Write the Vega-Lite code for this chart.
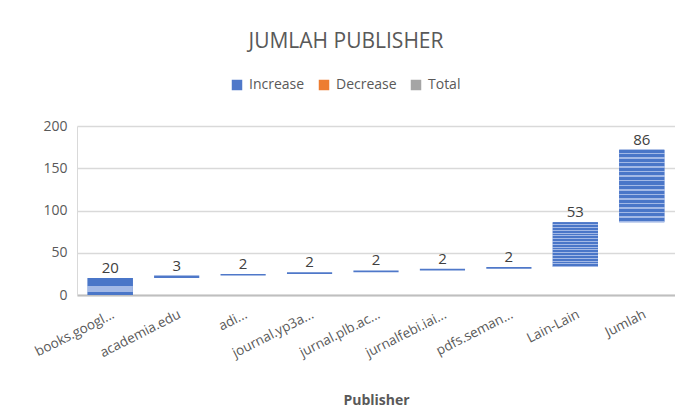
{
  "$schema": "https://vega.github.io/schema/vega-lite/v6.json",
  "autosize": {"type": "none"},
  "width": 598,
  "height": 169,
  "padding": {"left": 77, "top": 126, "right": 0, "bottom": 117},
  "background": "white",
  "title": {
    "text": "JUMLAH PUBLISHER",
    "font": "Open Sans",
    "fontSize": 21,
    "fontWeight": "normal",
    "color": "#595959",
    "anchor": "middle",
    "dx": -30,
    "offset": 26
  },
  "config": {
    "view": {"stroke": null},
    "font": "Open Sans"
  },
  "data": {
    "values": [
      {"publisher": "books.googl...", "start": 0, "end": 20, "value": 20, "type": "Increase"},
      {"publisher": "academia.edu", "start": 20, "end": 23, "value": 3, "type": "Increase"},
      {"publisher": "adi...", "start": 23, "end": 25, "value": 2, "type": "Increase"},
      {"publisher": "journal.yp3a...", "start": 25, "end": 27, "value": 2, "type": "Increase"},
      {"publisher": "jurnal.plb.ac...", "start": 27, "end": 29, "value": 2, "type": "Increase"},
      {"publisher": "jurnalfebi.iai...", "start": 29, "end": 31, "value": 2, "type": "Increase"},
      {"publisher": "pdfs.seman...", "start": 31, "end": 33, "value": 2, "type": "Increase"},
      {"publisher": "Lain-Lain", "start": 33, "end": 86, "value": 53, "type": "Increase"},
      {"publisher": "Jumlah", "start": 86, "end": 172, "value": 86, "type": "Increase"}
    ]
  },
  "encoding": {
    "x": {
      "field": "publisher",
      "type": "nominal",
      "sort": null,
      "scale": {"paddingInner": 0.32, "paddingOuter": 0.16},
      "axis": {
        "title": "Publisher",
        "titleFont": "Open Sans",
        "titleFontSize": 14,
        "titleFontWeight": "bold",
        "titleColor": "#595959",
        "titlePadding": 34,
        "labelAngle": -27,
        "labelFont": "Open Sans",
        "labelFontSize": 13.5,
        "labelColor": "#595959",
        "labelPadding": 12,
        "labelLimit": 200,
        "ticks": false,
        "domainColor": "#bfbfbf",
        "domainWidth": 2,
        "grid": false
      }
    }
  },
  "layer": [
    {
      "mark": {"type": "bar", "stroke": null, "opacity": 1},
      "encoding": {
        "y": {
          "field": "start",
          "type": "quantitative",
          "scale": {"domain": [0, 200]},
          "axis": {
            "title": null,
            "values": [0, 50, 100, 150, 200],
            "labelFont": "Open Sans",
            "labelFontSize": 14,
            "labelColor": "#595959",
            "labelPadding": 10,
            "ticks": false,
            "domain": true,
            "domainColor": "#d9d9d9",
            "gridColor": "#d9d9d9",
            "gridWidth": 1.3
          }
        },
        "y2": {"field": "end"},
        "color": {
          "field": "type",
          "type": "nominal",
          "scale": {
            "domain": ["Increase", "Decrease", "Total"],
            "range": ["#4f78c9", "#ED7D31", "#A5A5A5"]
          },
          "legend": {
            "title": null,
            "orient": "none",
            "direction": "horizontal",
            "legendX": 153,
            "legendY": -48,
            "symbolType": "square",
            "symbolSize": 110,
            "symbolStrokeWidth": 0,
            "labelFont": "Open Sans",
            "labelFontSize": 14,
            "labelColor": "#595959",
            "columnPadding": 12,
            "labelOffset": 5
          }
        }
      }
    },
    {
      "transform": [{"filter": "datum.value >= 10"}],
      "mark": {
        "type": "bar",
        "stroke": null,
        "color": {
          "gradient": "linear",
          "x1": 0, "y1": 0, "x2": 0, "y2": 1,
          "stops": [
            {"offset": 0, "color": "#4a76c8"}, {"offset": 0.042, "color": "#4a76c8"}, {"offset": 0.042, "color": "#a3b9e6"}, {"offset": 0.0625, "color": "#a3b9e6"},
            {"offset": 0.0625, "color": "#4a76c8"}, {"offset": 0.1045, "color": "#4a76c8"}, {"offset": 0.1045, "color": "#a3b9e6"}, {"offset": 0.125, "color": "#a3b9e6"},
            {"offset": 0.125, "color": "#4a76c8"}, {"offset": 0.167, "color": "#4a76c8"}, {"offset": 0.167, "color": "#a3b9e6"}, {"offset": 0.1875, "color": "#a3b9e6"},
            {"offset": 0.1875, "color": "#4a76c8"}, {"offset": 0.2295, "color": "#4a76c8"}, {"offset": 0.2295, "color": "#a3b9e6"}, {"offset": 0.25, "color": "#a3b9e6"},
            {"offset": 0.25, "color": "#4a76c8"}, {"offset": 0.292, "color": "#4a76c8"}, {"offset": 0.292, "color": "#a3b9e6"}, {"offset": 0.3125, "color": "#a3b9e6"},
            {"offset": 0.3125, "color": "#4a76c8"}, {"offset": 0.3545, "color": "#4a76c8"}, {"offset": 0.3545, "color": "#a3b9e6"}, {"offset": 0.375, "color": "#a3b9e6"},
            {"offset": 0.375, "color": "#4a76c8"}, {"offset": 0.417, "color": "#4a76c8"}, {"offset": 0.417, "color": "#a3b9e6"}, {"offset": 0.4375, "color": "#a3b9e6"},
            {"offset": 0.4375, "color": "#4a76c8"}, {"offset": 0.4795, "color": "#4a76c8"}, {"offset": 0.4795, "color": "#a3b9e6"}, {"offset": 0.5, "color": "#a3b9e6"},
            {"offset": 0.5, "color": "#4a76c8"}, {"offset": 0.542, "color": "#4a76c8"}, {"offset": 0.542, "color": "#a3b9e6"}, {"offset": 0.5625, "color": "#a3b9e6"},
            {"offset": 0.5625, "color": "#4a76c8"}, {"offset": 0.6045, "color": "#4a76c8"}, {"offset": 0.6045, "color": "#a3b9e6"}, {"offset": 0.625, "color": "#a3b9e6"},
            {"offset": 0.625, "color": "#4a76c8"}, {"offset": 0.667, "color": "#4a76c8"}, {"offset": 0.667, "color": "#a3b9e6"}, {"offset": 0.6875, "color": "#a3b9e6"},
            {"offset": 0.6875, "color": "#4a76c8"}, {"offset": 0.7295, "color": "#4a76c8"}, {"offset": 0.7295, "color": "#a3b9e6"}, {"offset": 0.75, "color": "#a3b9e6"},
            {"offset": 0.75, "color": "#4a76c8"}, {"offset": 0.792, "color": "#4a76c8"}, {"offset": 0.792, "color": "#a3b9e6"}, {"offset": 0.8125, "color": "#a3b9e6"},
            {"offset": 0.8125, "color": "#4a76c8"}, {"offset": 0.8545, "color": "#4a76c8"}, {"offset": 0.8545, "color": "#a3b9e6"}, {"offset": 0.875, "color": "#a3b9e6"},
            {"offset": 0.875, "color": "#4a76c8"}, {"offset": 0.917, "color": "#4a76c8"}, {"offset": 0.917, "color": "#a3b9e6"}, {"offset": 0.9375, "color": "#a3b9e6"},
            {"offset": 0.9375, "color": "#4a76c8"}, {"offset": 0.9795, "color": "#4a76c8"}, {"offset": 0.9795, "color": "#a3b9e6"}, {"offset": 1, "color": "#a3b9e6"}
          ]
        }
      },
      "encoding": {
        "y": {"field": "start", "type": "quantitative"},
        "y2": {"field": "end"}
      }
    },
    {
      "mark": {"type": "text", "baseline": "bottom", "dy": -2, "fontSize": 15, "font": "Open Sans", "color": "#404040"},
      "encoding": {
        "y": {"field": "end", "type": "quantitative"},
        "text": {"field": "value", "type": "quantitative"}
      }
    }
  ]
}
